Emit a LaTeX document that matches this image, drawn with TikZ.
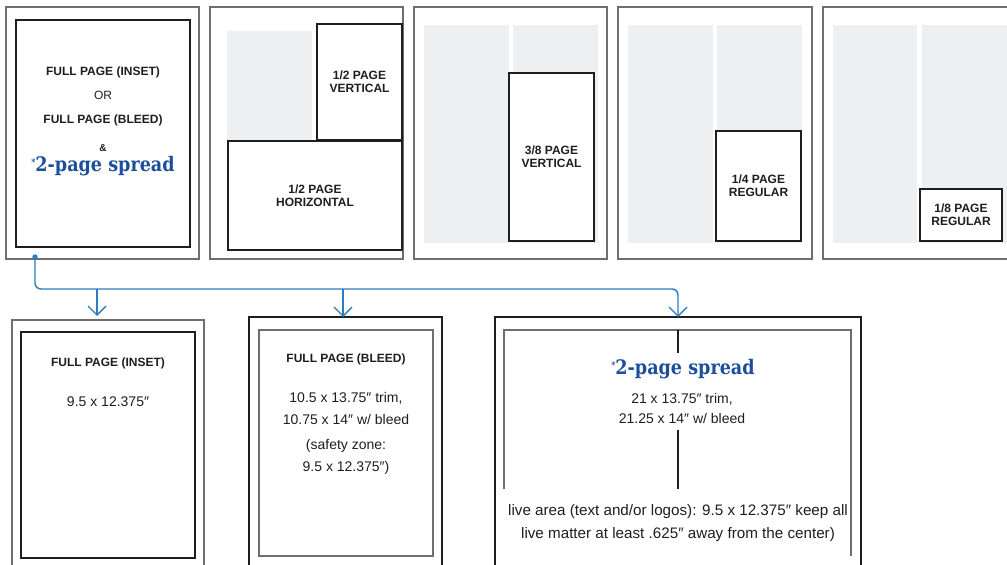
\documentclass[tikz,border=0pt]{standalone}
\usepackage{fontspec}
\setmainfont{Liberation Sans}
\newfontfamily\slab{DejaVu Serif}
\usetikzlibrary{arrows.meta}
\definecolor{pagegray}{HTML}{6E6E6E}
\definecolor{ink}{HTML}{1E1E1E}
\definecolor{colgray}{HTML}{EEEFF1}
\definecolor{linkblue}{HTML}{2B7CC1}
\definecolor{titleblue}{HTML}{1B4F9C}
\begin{document}
\begin{tikzpicture}[x=1bp,y=-1bp,
  thinframe/.style={draw=pagegray, line width=1.3bp, inner sep=0, outer sep=0},
  thickframe/.style={draw=ink, line width=2.2bp, inner sep=0, outer sep=0},
  adbox/.style={draw=ink, line width=2bp, fill=white, inner sep=0, outer sep=0, align=center,
    font=\bfseries\fontsize{12bp}{13bp}\selectfont, text=ink},
  colfill/.style={fill=colgray},
  lbl/.style={inner sep=0, align=center, text=ink, font=\bfseries\fontsize{12bp}{13bp}\selectfont},
  body/.style={inner sep=0, align=center, text=ink, font=\fontsize{14bp}{22bp}\selectfont},
  spread/.style={inner sep=0, text=titleblue, font=\slab\bfseries\fontsize{20bp}{22bp}\selectfont},
  link/.style={draw=linkblue, line width=1.4bp},
  tip/.style={-{Straight Barb[length=9bp,width=18bp]}}
]
\useasboundingbox (0,0) rectangle (1007,565);
\clip (0,0) rectangle (1007,565);

% ---------- top row page frames ----------
\node[thinframe, minimum width=193bp, minimum height=252bp, anchor=north west] (p1) at (6,7) {};
\node[thinframe, minimum width=193bp, minimum height=252bp, anchor=north west] (p2) at (210,7) {};
\node[thinframe, minimum width=193bp, minimum height=252bp, anchor=north west] (p3) at (414,7) {};
\node[thinframe, minimum width=194bp, minimum height=252bp, anchor=north west] (p4) at (618,7) {};
\node[thinframe, minimum width=194bp, minimum height=252bp, anchor=north west] (p5) at (823,7) {};

% page 1 : full page
\node[thickframe, line width=1.6bp, minimum width=174bp, minimum height=227bp, anchor=north west] (fp) at (16,20) {};
\node[lbl] (t1) at (103,72) {FULL PAGE (INSET)};
\node[body, font=\fontsize{12bp}{13bp}\selectfont] (t2) at (103,95) {OR};
\node[lbl] (t3) at (103,120) {FULL PAGE (BLEED)};
\node[lbl, font=\bfseries\fontsize{10bp}{11bp}\selectfont] (t4) at (103,148) {\&};
\node[spread] (t5) at (103,166) {\scalebox{0.88}[1]{\raisebox{6bp}{\fontsize{9bp}{9bp}\selectfont*}2-page spread}};

% page 2 : halves
\fill[colfill] (227,31) rectangle (312,140);
\node[adbox, minimum width=85bp, minimum height=116bp, anchor=north west] (hv) at (317,24) {1/2 PAGE\\VERTICAL};
\node[adbox, minimum width=174bp, minimum height=109bp, anchor=north west] (hh) at (228,141) {1/2 PAGE\\HORIZONTAL};

% page 3 : 3/8 vertical
\fill[colfill] (424,25) rectangle (509,243);
\fill[colfill] (513,25) rectangle (598,243);
\node[adbox, minimum width=85bp, minimum height=168bp, anchor=north west] (v38) at (509,73) {3/8 PAGE\\VERTICAL};

% page 4 : 1/4 regular
\fill[colfill] (628,25) rectangle (713,243);
\fill[colfill] (717,25) rectangle (802,243);
\node[adbox, minimum width=85bp, minimum height=110bp, anchor=north west] (q) at (716,131) {1/4 PAGE\\REGULAR};

% page 5 : 1/8 regular
\fill[colfill] (833,25) rectangle (917,243);
\fill[colfill] (922,25) rectangle (1012,243);
\node[adbox, minimum width=82bp, minimum height=52bp, anchor=north west] (e) at (920,189) {1/8 PAGE\\REGULAR};

% ---------- bottom row ----------
\node[thinframe, minimum width=192bp, minimum height=280bp, anchor=north west] (b1) at (12,320) {};
\node[thickframe, minimum width=174bp, minimum height=226bp, anchor=north west] (b1i) at (21,332) {};
\node[lbl] (b1t) at (108,363) {FULL PAGE (INSET)};
\node[body] (b1s) at (108,402) {9.5 x 12.375″};

\node[thickframe, minimum width=193bp, minimum height=280bp, anchor=north west] (b2) at (249,317) {};
\node[thinframe, minimum width=174bp, minimum height=226bp, anchor=north west] (b2i) at (259,330) {};
\node[lbl] (b2t) at (346,359) {FULL PAGE (BLEED)};
\node[body] (b2s) at (346,408) {10.5 x 13.75″ trim,\\10.75 x 14″ w/ bleed};
\node[body] (b2z) at (346,457) {(safety zone:\\9.5 x 12.375″)};

\node[thickframe, minimum width=366bp, minimum height=280bp, anchor=north west] (b3) at (495,317) {};
\draw[pagegray, line width=1.3bp] (504,489) -- (504,330) -- (851,330) -- (851,556);
\draw[ink, line width=1.6bp] (678,330) -- (678,353);
\draw[ink, line width=1.6bp] (678,430) -- (678,489);
\node[spread] (b3t) at (683,369) {\scalebox{0.88}[1]{\raisebox{6bp}{\fontsize{9bp}{9bp}\selectfont*}2-page spread}};
\node[body, font=\fontsize{14bp}{20bp}\selectfont] (b3s) at (682,408) {21 x 13.75″ trim,\\21.25 x 14″ w/ bleed};
\node[body, font=\fontsize{15.2bp}{23bp}\selectfont] (b3l) at (678,523.5) {live area (text and/or logos): 9.5 x 12.375″ keep all\\live matter at least .625″ away from the center)};

% ---------- connectors ----------
\coordinate (dot) at (35,257);
\coordinate (j1) at (97,289);
\coordinate (j2) at (343,289);
\draw[link, tip, rounded corners=6bp] (dot) -- (35,289) -- (678,289) -- (b3.north);
\draw[link, tip, shorten >=4bp] (j1) -- (j1 |- b1.north);
\draw[link, tip] (j2) -- (j2 |- b2.north);
\fill[linkblue] (dot) circle (2.7bp);
\end{tikzpicture}
\end{document}
